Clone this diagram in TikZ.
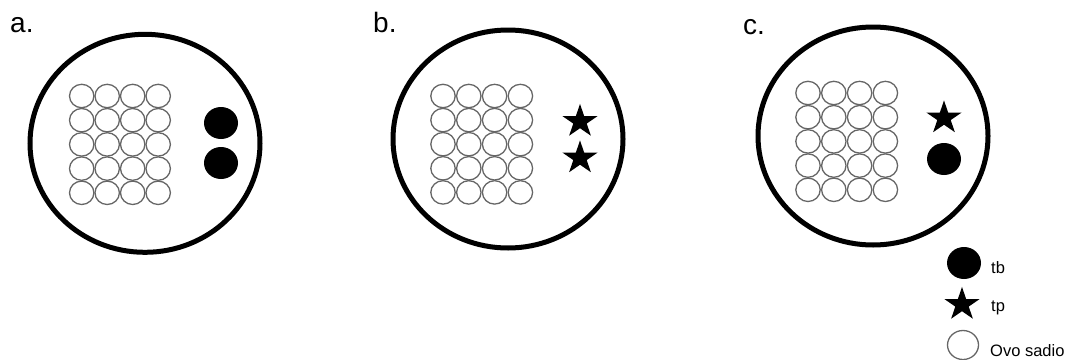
\documentclass[tikz,border=0pt]{standalone}
\usepackage{fontspec}
\setmainfont{Liberation Sans}
\usepackage{tikz}
\usetikzlibrary{shapes.geometric}

\begin{document}
\begin{tikzpicture}[
    x=1pt, y=-1pt,
    ring/.style={draw, ellipse, line width=5pt, minimum width=230pt, minimum height=218pt, inner sep=0pt},
    egg/.style={draw=black!60, ellipse, line width=1.3pt, minimum width=24.4pt, minimum height=23.4pt, inner sep=0pt},
    tbdot/.style={fill=black, ellipse, minimum width=34pt, minimum height=32pt, inner sep=0pt},
    tpstar/.style={fill=black, star, star points=5, star point ratio=2.618, minimum size=37pt, inner sep=0pt, yscale=0.95},
    panel/.style={anchor=base west, inner sep=0pt, font=\fontsize{28pt}{30pt}\selectfont},
    legend/.style={anchor=base west, inner sep=0pt, font=\fontsize{16.5pt}{18pt}\selectfont}
]
\useasboundingbox (0,0) rectangle (1067,359);

% panel a
\node[panel] (lbla) at (10,32) {a.};
\node[ring] (ringa) at (145,143.3) {};
\foreach \i in {0,...,3}
  \foreach \j in {0,...,4}
    \node[egg] (a-egg-\i-\j) at (81.7+25.5*\i, 96+24.2*\j) {};
\node[tbdot] (a-tb1) at (221,123) {};
\node[tbdot] (a-tb2) at (221,163) {};

% panel b
\node[panel] (lblb) at (373,32) {b.};
\node[ring] (ringb) at (508,139) {};
\foreach \i in {0,...,3}
  \foreach \j in {0,...,4}
    \node[egg] (b-egg-\i-\j) at (443+25.8*\i, 96+24.1*\j) {};
\node[tpstar] (b-tp1) at (580,121.5) {};
\node[tpstar] (b-tp2) at (580,158) {};

% panel c
\node[panel] (lblc) at (743,34) {c.};
\node[ring] (ringc) at (873,136) {};
\foreach \i in {0,...,3}
  \foreach \j in {0,...,4}
    \node[egg] (c-egg-\i-\j) at (808+25.8*\i, 93+24.2*\j) {};
\node[tpstar] (c-tp) at (944,118) {};
\node[tbdot] (c-tb) at (944,159) {};

% legend
\node[tbdot] (key-tb) at (964,263) {};
\node[legend] (txt-tb) at (991,273) {tb};
\node[tpstar] (key-tp) at (962,304.5) {};
\node[legend] (txt-tp) at (991,311) {tp};
\node[egg, minimum width=31pt, minimum height=29pt] (key-egg) at (963,345) {};
\node[legend] (txt-egg) at (990,356) {Ovo sadio};
\end{tikzpicture}
\end{document}
